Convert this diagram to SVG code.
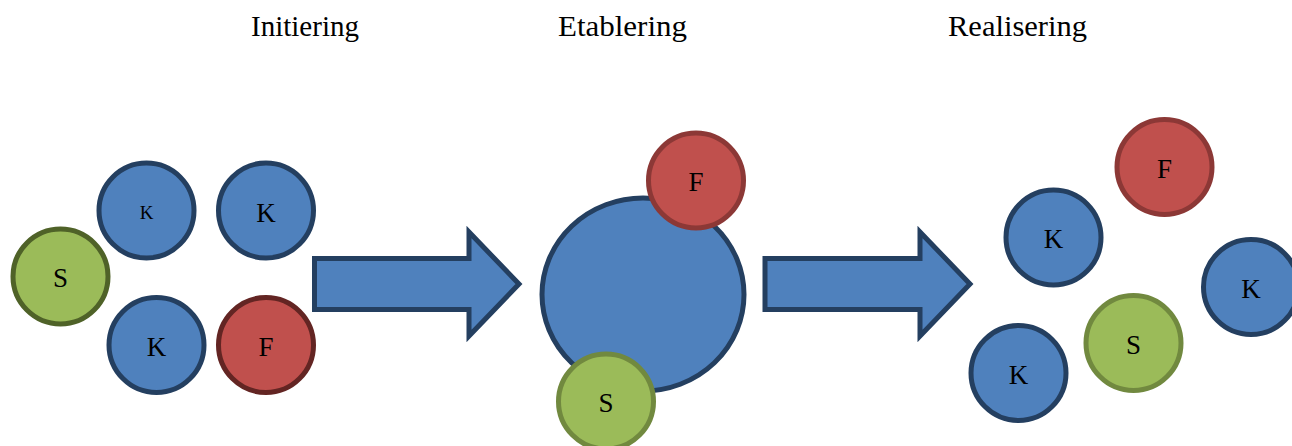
<svg xmlns="http://www.w3.org/2000/svg" width="1292" height="446" viewBox="0 0 1292 446">
<style>
.title{font-family:"Liberation Serif",serif;font-size:29px;fill:#000;text-anchor:middle}
.lbl{font-family:"Liberation Serif",serif;font-size:27px;fill:#000;text-anchor:middle}
.blue{fill:#4F81BD;stroke:#243F60;stroke-width:5}
.red{fill:#C0504D;stroke:#8C3836;stroke-width:5}
.green{fill:#9BBB59;stroke:#71893F;stroke-width:5}
.redD{fill:#C0504D;stroke:#632523;stroke-width:5}
.greenD{fill:#9BBB59;stroke:#4F6228;stroke-width:5}
.arrow{fill:#4F81BD;stroke:#243F60;stroke-width:5;stroke-linejoin:miter}
</style>
<rect width="1292" height="446" fill="#fff"/>
<g id="titles">
<text class="title" x="305" y="36" textLength="108" lengthAdjust="spacingAndGlyphs">Initiering</text>
<text class="title" x="622.5" y="36" textLength="129" lengthAdjust="spacingAndGlyphs">Etablering</text>
<text class="title" x="1017.5" y="36" textLength="139" lengthAdjust="spacingAndGlyphs">Realisering</text>
</g>
<g id="connectors">
<path class="arrow" d="M314.5,258.5 H469 V232 L519,284 L469,336 V309.5 H314.5 Z"/>
<path class="arrow" d="M765,258.5 H920 V232 L970,284 L920,336 V309.5 H765 Z"/>
</g>
<g id="init-k1"><circle class="blue" cx="146.5" cy="210.5" r="47.5"/><text class="lbl" x="146.5" y="218.5" style="font-size:19px">K</text></g>
<g id="init-k2"><circle class="blue" cx="266" cy="210.5" r="47.5"/><text class="lbl" x="266" y="221.5">K</text></g>
<g id="init-s"><circle class="greenD" cx="60.5" cy="276.5" r="47.5"/><text class="lbl" x="60.5" y="286.5">S</text></g>
<g id="init-k3"><circle class="blue" cx="156.5" cy="345" r="47.5"/><text class="lbl" x="156.5" y="355.5">K</text></g>
<g id="init-f"><circle class="redD" cx="266" cy="345" r="47.5"/><text class="lbl" x="266" y="355.5">F</text></g>
<g id="est-team"><ellipse class="blue" cx="643" cy="294.5" rx="101" ry="96.5"/></g>
<g id="est-f"><circle class="red" cx="696" cy="180.5" r="47.5"/><text class="lbl" x="696" y="191">F</text></g>
<g id="est-s"><circle class="green" cx="606" cy="401.5" r="47.5"/><text class="lbl" x="606" y="412">S</text></g>
<g id="real-f"><circle class="red" cx="1164.5" cy="167" r="47.5"/><text class="lbl" x="1164.5" y="177.5">F</text></g>
<g id="real-k1"><circle class="blue" cx="1053.5" cy="237.5" r="47.5"/><text class="lbl" x="1053.5" y="248">K</text></g>
<g id="real-k2"><circle class="blue" cx="1251" cy="287" r="47.5"/><text class="lbl" x="1251" y="297.5">K</text></g>
<g id="real-s"><circle class="green" cx="1133.5" cy="343" r="47.5"/><text class="lbl" x="1133.5" y="353.5">S</text></g>
<g id="real-k3"><circle class="blue" cx="1018.5" cy="373" r="47.5"/><text class="lbl" x="1018.5" y="383.5">K</text></g>
</svg>
